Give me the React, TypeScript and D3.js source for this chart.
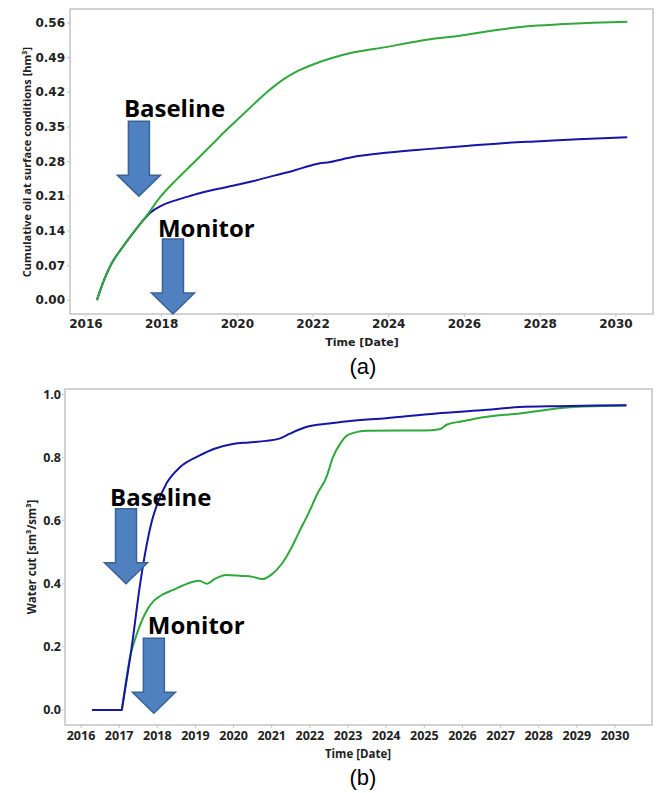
import React from 'react';
import * as d3 from 'd3';

// ---------- Data (a): cumulative oil ----------
const oilGreenYears = [2016.29, 2016.45, 2016.65, 2016.95, 2017.29, 2017.6, 2017.95, 2018.4, 2018.88, 2019.35, 2019.8, 2020.3, 2020.78, 2021.2, 2021.6, 2022.0, 2022.5, 2023.05, 2024.0, 2024.4, 2025.0, 2025.96, 2026.8, 2027.65, 2028.5, 2029.4, 2030.3];
const oilGreenValues = [0.0, 0.035, 0.07, 0.105, 0.14, 0.17, 0.207, 0.244, 0.28, 0.316, 0.35, 0.386, 0.42, 0.445, 0.463, 0.476, 0.489, 0.5, 0.512, 0.518, 0.526, 0.535, 0.545, 0.553, 0.557, 0.56, 0.562];

const oilBlueYears = [2016.29, 2016.45, 2016.65, 2016.95, 2017.29, 2017.5, 2017.69, 2018.0, 2018.3, 2018.6, 2019.0, 2019.5, 2019.88, 2020.4, 2021.0, 2021.5, 2022.1, 2022.45, 2023.05, 2024.0, 2025.0, 2025.96, 2027.0, 2028.0, 2029.0, 2030.3];
const oilBlueValues = [0.0, 0.035, 0.07, 0.105, 0.14, 0.16, 0.176, 0.191, 0.2, 0.207, 0.216, 0.225, 0.231, 0.24, 0.252, 0.262, 0.275, 0.279, 0.289, 0.298, 0.305, 0.311, 0.317, 0.321, 0.325, 0.329];

const oilYTicks = [0.0, 0.07, 0.14, 0.21, 0.28, 0.35, 0.42, 0.49, 0.56];
const oilXTicks = [2016, 2018, 2020, 2022, 2024, 2026, 2028, 2030];

// ---------- Data (b): water cut ----------
const wcBlueYears = [2016.29, 2017.07, 2017.08, 2017.33, 2017.55, 2017.86, 2017.99, 2018.25, 2018.6, 2019.1, 2019.5, 2019.98, 2020.4, 2020.85, 2021.2, 2021.46, 2021.9, 2022.5, 2023.0, 2024.0, 2025.32, 2026.5, 2027.5, 2028.5, 2029.5, 2030.3];
const wcBlueValues = [0.0, 0.0, 0.008, 0.2, 0.4, 0.6, 0.65, 0.72, 0.77, 0.806, 0.828, 0.843, 0.848, 0.853, 0.86, 0.875, 0.897, 0.908, 0.915, 0.925, 0.94, 0.95, 0.96, 0.963, 0.965, 0.966];

const wcGreenYears = [2016.29, 2017.07, 2017.08, 2017.3, 2017.42, 2017.55, 2017.7, 2017.9, 2018.1, 2018.4, 2018.9, 2019.1, 2019.3, 2019.5, 2019.8, 2020.2, 2020.5, 2020.75, 2021.0, 2021.28, 2021.5, 2021.7, 2021.95, 2022.2, 2022.44, 2022.6, 2022.8, 2023.0, 2023.5, 2024.4, 2025.0, 2025.4, 2025.6, 2026.0, 2026.4, 2027.5, 2028.9, 2030.3];
const wcGreenValues = [0.0, 0.0, 0.008, 0.177, 0.225, 0.27, 0.31, 0.345, 0.363, 0.38, 0.405, 0.41, 0.4, 0.415, 0.428, 0.425, 0.422, 0.415, 0.43, 0.466, 0.51, 0.56, 0.62, 0.686, 0.74, 0.8, 0.845, 0.872, 0.885, 0.886, 0.886, 0.89, 0.905, 0.915, 0.925, 0.94, 0.96, 0.965];

const wcYTicks = [0.0, 0.2, 0.4, 0.6, 0.8, 1.0];
const wcXTicks = [2016, 2017, 2018, 2019, 2020, 2021, 2022, 2023, 2024, 2025, 2026, 2027, 2028, 2029, 2030];

// annotation anchors (arrow tip in data space)
const annotA = [
  { label: 'Baseline', year: 2017.40, value: 0.21 },
  { label: 'Monitor', year: 2018.30, value: -0.028 },
];
const annotB = [
  { label: 'Baseline', year: 2017.18, value: 0.40 },
  { label: 'Monitor', year: 2017.91, value: -0.01 },
];

const GREEN = '#2fa83c';
const BLUE = '#1515a8';
const FRAME = '#c4c4c4';
const ARROW_FILL = '#4f80bf';
const ARROW_STROKE = '#3a6296';

function arrowPath(tx: number, ty: number) {
  const sw = 10.5, hw = 21.5, hh = 21, len = 75;
  return `M${tx - sw},${ty - len} L${tx + sw},${ty - len} L${tx + sw},${ty - hh} L${tx + hw},${ty - hh} L${tx},${ty} L${tx - hw},${ty - hh} L${tx - sw},${ty - hh} Z`;
}

export default function App() {
  // ---- panel (a) ----
  const ax = d3.scaleLinear().domain([2015.58, 2030.98]).range([70, 653]);
  const ay = d3.scaleLinear().domain([-0.028, 0.588]).range([314, 9]);
  const lineA = d3.line<[number, number]>().x(d => ax(d[0])).y(d => ay(d[1])).curve(d3.curveMonotoneX);
  const aGreen = lineA(oilGreenYears.map((y, i) => [y, oilGreenValues[i]]))!;
  const aBlue = lineA(oilBlueYears.map((y, i) => [y, oilBlueValues[i]]))!;

  // ---- panel (b) ----
  const bx = d3.scaleLinear().domain([2015.58, 2030.97]).range([65, 652]);
  const by = d3.scaleLinear().domain([-0.0475, 1.0174]).range([725, 389]);
  const lineB = d3.line<[number, number]>().x(d => bx(d[0])).y(d => by(d[1])).curve(d3.curveMonotoneX);
  const bGreen = lineB(wcGreenYears.map((y, i) => [y, wcGreenValues[i]]))!;
  const bBlue = lineB(wcBlueYears.map((y, i) => [y, wcBlueValues[i]]))!;

  const tickFontA = "'DejaVu Sans', Verdana, sans-serif";
  const tickFontB = "'Open Sans', sans-serif";

  const textOffA = [{ dx: -15, dy: -79 }, { dx: -15, dy: -77 }];
  const textOffB = [{ dx: -16, dy: -78 }, { dx: -6, dy: -79 }];

  return (
    <svg width={657} height={793} style={{ position: 'absolute', left: 0, top: 0, background: '#fff' }}>
      {/* ===== Panel (a) ===== */}
      <rect x={70} y={9} width={583} height={305} fill="#fff" stroke={FRAME} strokeWidth={1.5} />
      {oilYTicks.map(t => (
        <g key={'ay' + t}>
          <line x1={67} x2={70} y1={ay(t)} y2={ay(t)} stroke={FRAME} />
          <text x={65} y={ay(t)} dy="0.35em" textAnchor="end" fontFamily={tickFontA} fontWeight="bold" fontSize={12} fill="#222">{t.toFixed(2)}</text>
        </g>
      ))}
      {oilXTicks.map(t => (
        <g key={'ax' + t}>
          <line x1={ax(t)} x2={ax(t)} y1={314} y2={317} stroke={FRAME} />
          <text x={ax(t)} y={328} textAnchor="middle" fontFamily={tickFontA} fontWeight="bold" fontSize={12} fill="#222">{t}</text>
        </g>
      ))}
      <text x={362} y={346} textAnchor="middle" fontFamily={tickFontA} fontWeight="bold" fontSize={11} fill="#222">Time [Date]</text>
      <text transform="translate(31,162) rotate(-90)" textAnchor="middle" fontFamily={tickFontB} fontWeight="bold" fontSize={11} fill="#222">Cumulative oil at surface conditions [hm³]</text>
      <path d={aBlue} fill="none" stroke={BLUE} strokeWidth={2} />
      <path d={aGreen} fill="none" stroke={GREEN} strokeWidth={2} />
      {annotA.map((a, i) => {
        const tx = ax(a.year), ty = ay(a.value);
        return (
          <g key={'aa' + i}>
            <path d={arrowPath(tx, ty)} fill={ARROW_FILL} stroke={ARROW_STROKE} strokeWidth={1.5} />
            <text x={tx + textOffA[i].dx} y={ty + textOffA[i].dy} fontFamily={tickFontB} fontWeight="bold" fontSize={24} fill="#000">{a.label}</text>
          </g>
        );
      })}
      <text x={363} y={374} textAnchor="middle" fontFamily="'Liberation Sans', Arial, sans-serif" fontSize={22} fill="#000">(a)</text>

      {/* ===== Panel (b) ===== */}
      <rect x={65} y={389} width={587} height={336} fill="#fff" stroke={FRAME} strokeWidth={1.5} />
      {wcYTicks.map(t => (
        <g key={'by' + t}>
          <line x1={62} x2={65} y1={by(t)} y2={by(t)} stroke={FRAME} />
          <text x={61} y={by(t)} dy="0.35em" textAnchor="end" fontFamily={tickFontB} fontWeight="bold" fontSize={12.5} fill="#222">{t.toFixed(1)}</text>
        </g>
      ))}
      {wcXTicks.map(t => (
        <g key={'bx' + t}>
          <line x1={bx(t)} x2={bx(t)} y1={725} y2={728} stroke={FRAME} />
          <text x={bx(t)} y={740} textAnchor="middle" fontFamily={tickFontB} fontWeight="bold" fontSize={12.5} fill="#222">{t}</text>
        </g>
      ))}
      <text x={358} y={758} textAnchor="middle" fontFamily={tickFontB} fontWeight="bold" fontSize={11.5} fill="#222">Time [Date]</text>
      <text transform="translate(36,557) rotate(-90)" textAnchor="middle" fontFamily={tickFontB} fontWeight="bold" fontSize={11.5} fill="#222">Water cut [sm³/sm³]</text>
      <path d={bGreen} fill="none" stroke={GREEN} strokeWidth={2} />
      <path d={bBlue} fill="none" stroke={BLUE} strokeWidth={2} />
      {annotB.map((a, i) => {
        const tx = bx(a.year), ty = by(a.value);
        return (
          <g key={'ba' + i}>
            <path d={arrowPath(tx, ty)} fill={ARROW_FILL} stroke={ARROW_STROKE} strokeWidth={1.5} />
            <text x={tx + textOffB[i].dx} y={ty + textOffB[i].dy} fontFamily={tickFontB} fontWeight="bold" fontSize={24} fill="#000">{a.label}</text>
          </g>
        );
      })}
      <text x={363} y={785} textAnchor="middle" fontFamily="'Liberation Sans', Arial, sans-serif" fontSize={22} fill="#000">(b)</text>
    </svg>
  );
}
